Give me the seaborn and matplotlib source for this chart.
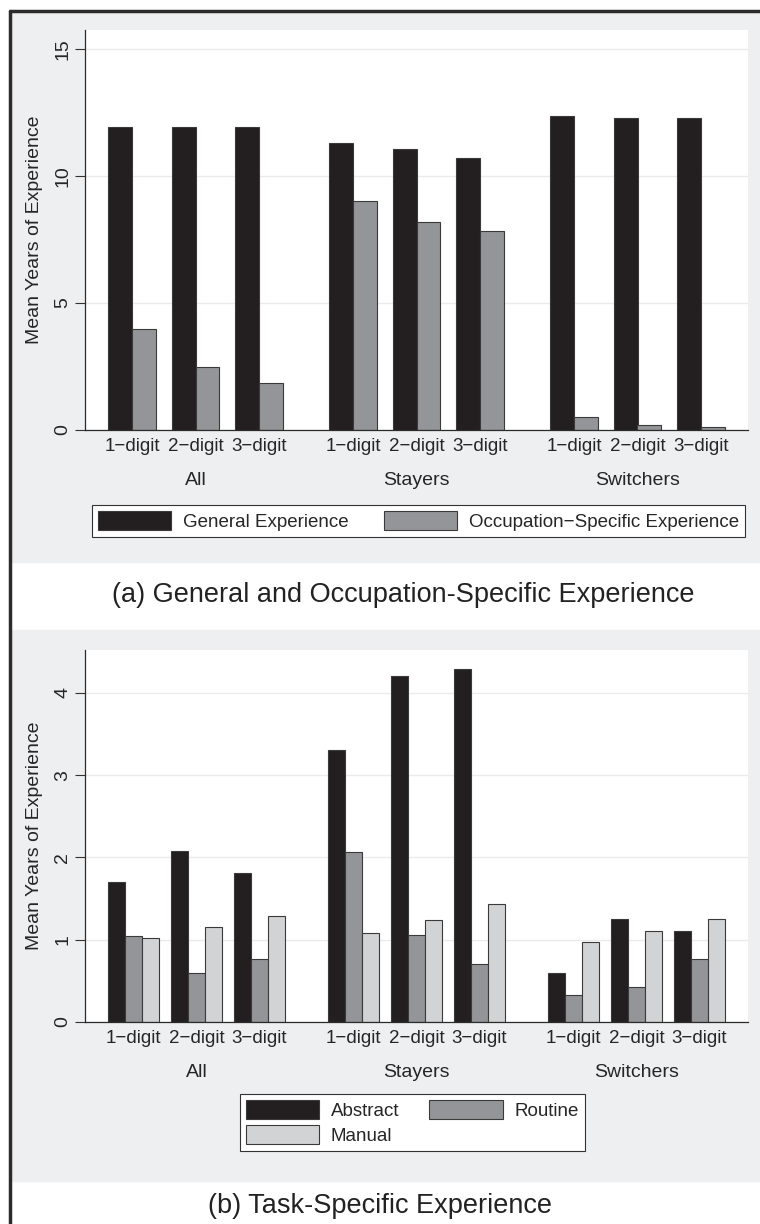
import numpy as np
import pandas as pd
import matplotlib
matplotlib.use("Agg")
import matplotlib.pyplot as plt
from matplotlib.patches import Rectangle
from matplotlib.lines import Line2D
import seaborn as sns

# ---- data ----
groups = ["All", "Stayers", "Switchers"]
digits = ["1\u2212digit", "2\u2212digit", "3\u2212digit"]

# panel (a): general vs occupation-specific experience (order: All 1-3, Stayers 1-3, Switchers 1-3)
general_exp = [11.95, 11.95, 11.95, 11.30, 11.06, 10.70, 12.36, 12.28, 12.28]
occ_exp = [3.98, 2.48, 1.85, 9.02, 8.19, 7.83, 0.52, 0.20, 0.10]

# panel (b): task-specific experience
abstract_exp = [1.70, 2.08, 1.81, 3.30, 4.21, 4.29, 0.60, 1.25, 1.10]
routine_exp = [1.04, 0.60, 0.76, 2.06, 1.06, 0.71, 0.33, 0.42, 0.77]
manual_exp = [1.02, 1.15, 1.29, 1.08, 1.24, 1.43, 0.97, 1.11, 1.25]

series_a = {"General Experience": general_exp,
            "Occupation\u2212Specific Experience": occ_exp}
series_b = {"Abstract": abstract_exp, "Routine": routine_exp, "Manual": manual_exp}

colors_a = {"General Experience": "#231f20",
            "Occupation\u2212Specific Experience": "#939598"}
colors_b = {"Abstract": "#231f20", "Routine": "#939598", "Manual": "#d1d3d4"}

GROUP_STEP = 3.5  # extra half-slot gap between the three groups


def long_frame(series):
    rows = []
    for name, vals in series.items():
        for i, v in enumerate(vals):
            g, d = divmod(i, 3)
            rows.append({"pos": g * GROUP_STEP + d, "group": groups[g],
                         "digit": digits[d], "series": name, "value": v})
    return pd.DataFrame(rows)


df_a = long_frame(series_a)
df_b = long_frame(series_b)

# ---- style ----
sns.set_style("white")
plt.rcParams["font.family"] = ["Liberation Sans", "DejaVu Sans"]

W, H = 760, 1224
fig = plt.figure(figsize=(W / 100, H / 100), dpi=100, facecolor="white")


def fx(x):
    return x / W


def fy(y):
    return 1 - y / H


BG = "#eeeff0"
# grey graph regions
fig.add_artist(Rectangle((fx(12), fy(562)), fx(760 - 12), (562 - 13) / H,
                         transform=fig.transFigure, color=BG, zorder=0))
fig.add_artist(Rectangle((fx(12), fy(1181)), fx(760 - 12), (1181 - 630) / H,
                         transform=fig.transFigure, color=BG, zorder=0))
# dark border (left and top)
fig.add_artist(Line2D([fx(10), fx(10)], [fy(11), 0], transform=fig.transFigure,
                      color="#2b2b2b", lw=2.5))
fig.add_artist(Line2D([fx(10), 1], [fy(11), fy(11)], transform=fig.transFigure,
                      color="#2b2b2b", lw=2.5))

ax_a = fig.add_axes([fx(85), fy(430), fx(748 - 85), (430 - 30) / H])
ax_b = fig.add_axes([fx(85), fy(1022), fx(748 - 85), (1022 - 650) / H])


def draw_panel(ax, df, palette, width, ylim, yticks, xlim):
    sns.barplot(data=df, x="pos", y="value", hue="series", palette=palette,
                hue_order=list(palette.keys()), native_scale=True, width=width,
                edgecolor="#3a3a3a", linewidth=0.8, saturation=1, ax=ax,
                errorbar=None)
    ax.set_facecolor("white")
    ax.set_xlim(*xlim)
    ax.set_ylim(*ylim)
    ax.set_yticks(yticks)
    ax.set_yticklabels([str(t) for t in yticks])
    ax.yaxis.grid(True, color="#ebebeb", lw=1)
    ax.set_axisbelow(True)
    ax.tick_params(axis="y", direction="out", length=7, width=0.8,
                   color="#333333", labelsize=14, labelrotation=90, pad=3, left=True)
    for lab in ax.get_yticklabels():
        lab.set_va("center")
    positions = sorted(df["pos"].unique())
    ax.set_xticks(positions)
    ax.set_xticklabels(digits * 3)
    ax.tick_params(axis="x", length=0, labelsize=13.5, pad=6)
    ax.set_xlabel("")
    ax.set_ylabel("Mean Years of Experience", fontsize=14, labelpad=8)
    for s in ["top", "right"]:
        ax.spines[s].set_visible(False)
    for s in ["left", "bottom"]:
        ax.spines[s].set_color("#2b2b2b")
        ax.spines[s].set_linewidth(0.9)
    # group labels under the digit labels
    sec = ax.secondary_xaxis("bottom")
    sec.set_xticks([g * GROUP_STEP + 1 for g in range(3)])
    sec.set_xticklabels(groups)
    sec.tick_params(length=0, labelsize=14, pad=30)
    sec.spines["bottom"].set_visible(False)


draw_panel(ax_a, df_a, colors_a, 0.76, (0, 15.75), [0, 5, 10, 15], (-0.75, 9.75))
draw_panel(ax_b, df_b, colors_b, 0.81, (0, 4.52), [0, 1, 2, 3, 4], (-0.77, 9.77))

legend_kw = dict(frameon=True, fancybox=False, edgecolor="#333333", framealpha=1,
                 fontsize=13.5, handlelength=3.9, handleheight=1.15,
                 handletextpad=0.62, borderpad=0.33, borderaxespad=0)

# legends
h_a, l_a = ax_a.get_legend_handles_labels()
ax_a.legend(h_a, l_a, loc="upper left", ncol=2,
            bbox_to_anchor=((92 - 85) / 663, -75 / 400),
            bbox_transform=ax_a.transAxes, columnspacing=1.9, **legend_kw)
ax_a.get_legend().get_frame().set_linewidth(0.8)

h_b, l_b = ax_b.get_legend_handles_labels()
order = [0, 2, 1]  # row-major: Abstract, Routine / Manual
ax_b.legend([h_b[i] for i in order], [l_b[i] for i in order], loc="upper left",
            ncol=2, bbox_to_anchor=((240 - 85) / 663, -72 / 372),
            bbox_transform=ax_b.transAxes, columnspacing=1.6,
            labelspacing=0.3, **legend_kw)
ax_b.get_legend().get_frame().set_linewidth(0.8)

# panel captions
fig.text(fx(403), fy(595), "(a) General and Occupation-Specific Experience",
         ha="center", va="center", fontsize=19.5, color="#222222")
fig.text(fx(380), fy(1206), "(b) Task-Specific Experience",
         ha="center", va="center", fontsize=19.5, color="#222222")

fig.savefig("out.png", dpi=100, facecolor="white")
